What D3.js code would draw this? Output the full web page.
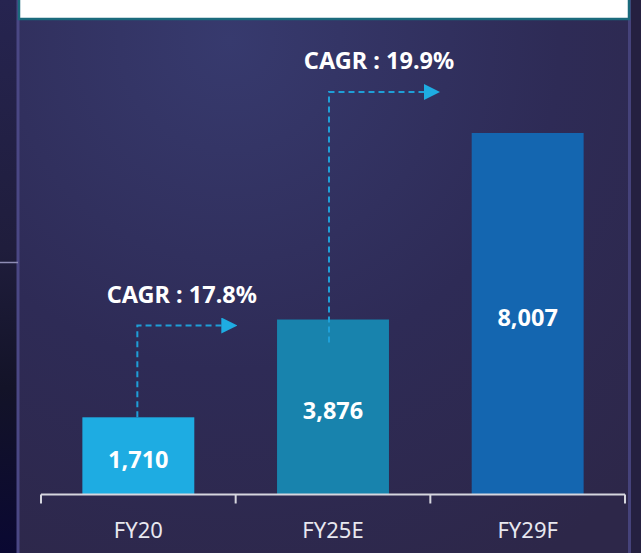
<!DOCTYPE html>
<html>
<head>
<meta charset="utf-8">
<script src="https://cdn.jsdelivr.net/npm/d3@7"></script>
<style>
  html, body { margin: 0; padding: 0; background: #2a2548; }
  svg { display: block; }
  text { font-family: "Noto Sans", "Open Sans", sans-serif; }
</style>
</head>
<body>
<div id="chart-area"></div>
<script>

// SVG Size
var width = 641,
	height = 553;

// chart data
var categories = ["FY20", "FY25E", "FY29F"];
var values = [1710, 3876, 8007];
var valueLabels = ["1,710", "3,876", "8,007"];
var barColors = ["#1eace2", "#1883ad", "#1466b0"];

// CAGR annotations (from bar i to bar i+1)
var cagrLabels = ["CAGR : 17.8%", "CAGR : 19.9%"];
var cagrFrom = ["FY20", "FY25E"];


var svg = d3.select("#chart-area")
	.append("svg")
	.attr("width", width)
	.attr("height", height);

var defs = svg.append("defs");

// background gradients
var bg = defs.append("radialGradient")
	.attr("id", "bg")
	.attr("gradientUnits", "userSpaceOnUse")
	.attr("cx", 230).attr("cy", 40).attr("r", 600);
bg.append("stop").attr("offset", "0%").attr("stop-color", "#373a6e");
bg.append("stop").attr("offset", "55%").attr("stop-color", "#2e2b56");
bg.append("stop").attr("offset", "100%").attr("stop-color", "#2d2749");

var leftBg = defs.append("linearGradient")
	.attr("id", "leftBg")
	.attr("x1", 0).attr("y1", 0).attr("x2", 0).attr("y2", 1);
leftBg.append("stop").attr("offset", "0%").attr("stop-color", "#262450");
leftBg.append("stop").attr("offset", "45%").attr("stop-color", "#1f1d3c");
leftBg.append("stop").attr("offset", "70%").attr("stop-color", "#131328");
leftBg.append("stop").attr("offset", "100%").attr("stop-color", "#0a0832");

var arrowHead = defs.append("marker")
	.attr("id", "arrowHead")
	.attr("viewBox", "0 0 16 16")
	.attr("refX", 1).attr("refY", 8)
	.attr("markerWidth", 16).attr("markerHeight", 16)
	.attr("markerUnits", "userSpaceOnUse")
	.attr("orient", "auto");
arrowHead.append("path")
	.attr("d", "M0,0 L16,8 L0,16 Z")
	.attr("fill", "#1eace2");

// panel background
svg.append("rect")
	.attr("x", 0).attr("y", 0)
	.attr("width", width).attr("height", height)
	.attr("fill", "url(#bg)");

svg.append("rect")
	.attr("x", 0).attr("y", 0)
	.attr("width", 17).attr("height", height)
	.attr("fill", "url(#leftBg)");

svg.append("rect")
	.attr("x", 631).attr("y", 0)
	.attr("width", 10).attr("height", height)
	.attr("fill", "#252040");

// panel borders
svg.append("line")
	.attr("x1", 18).attr("x2", 18)
	.attr("y1", 0).attr("y2", height)
	.attr("stroke", "#4a4784").attr("stroke-width", 3);

svg.append("line")
	.attr("x1", 629.5).attr("x2", 629.5)
	.attr("y1", 0).attr("y2", height)
	.attr("stroke", "#45427a").attr("stroke-width", 3);

svg.append("line")
	.attr("x1", 0).attr("x2", 18)
	.attr("y1", 262.5).attr("y2", 262.5)
	.attr("stroke", "#8e8cb4").attr("stroke-width", 1.5);

// white header box
svg.append("rect")
	.attr("x", 19).attr("y", -4)
	.attr("width", 610).attr("height", 23)
	.attr("fill", "#ffffff")
	.attr("stroke", "#1b6a7c").attr("stroke-width", 2.5);


// scales
var x = d3.scaleBand()
	.domain(categories)
	.range([41, 625])
	.paddingInner(0.425)
	.paddingOuter(0.2125);

var y = d3.scaleLinear()
	.domain([0, 8007])
	.range([494.5, 133]);

var color = d3.scaleOrdinal()
	.domain(categories)
	.range(barColors);


// bars
svg.selectAll("rect.bar").data(values).enter()
	.append("rect")
	.attr("class", "bar")
	.attr("x", function (d, i) {return x(categories[i])})
	.attr("y", function (d) {return y(d)})
	.attr("width", x.bandwidth())
	.attr("height", function (d) {return y(0) - y(d)})
	.attr("fill", function (d, i) {return color(categories[i])});

// value labels
svg.selectAll("text.value").data(values).enter()
	.append("text")
	.attr("class", "value")
	.attr("x", function (d, i) {return x(categories[i]) + x.bandwidth() / 2})
	.attr("y", function (d) {return (y(d) + y(0)) / 2 + 6})
	.attr("text-anchor", "middle")
	.attr("dominant-baseline", "middle")
	.attr("fill", "#ffffff")
	.attr("font-size", 23.5)
	.attr("font-weight", "bold")
	.text(function (d, i) {return valueLabels[i]});


// x axis: line with ticks on band boundaries
var boundaries = [x.range()[0]].concat(categories.map(function (c) {
	return x(c) + x.bandwidth() + x.step() * x.paddingInner() / 2;
}));

var axis = svg.append("g").attr("class", "axis");

axis.append("line")
	.attr("x1", boundaries[0]).attr("x2", boundaries[boundaries.length - 1])
	.attr("y1", y(0)).attr("y2", y(0))
	.attr("stroke", "#d6d6de").attr("stroke-width", 2);

axis.selectAll("line.tick").data(boundaries).enter()
	.append("line")
	.attr("class", "tick")
	.attr("x1", function (d) {return d}).attr("x2", function (d) {return d})
	.attr("y1", y(0)).attr("y2", y(0) + 9)
	.attr("stroke", "#d6d6de").attr("stroke-width", 2);

axis.selectAll("text").data(categories).enter()
	.append("text")
	.attr("x", function (d) {return x(d) + x.bandwidth() / 2})
	.attr("y", y(0) + 43)
	.attr("text-anchor", "middle")
	.attr("fill", "#e8e8f0")
	.attr("font-size", 22)
	.text(function (d) {return d});


// CAGR arrows
var lineOffset = [-1, -4];      // x shift of the vertical leg from bar centre
var startOffset = [0, 23];      // where the vertical leg starts, relative to bar top
var levelOffset = [6, -41];     // arrow height relative to next bar top
var reach = [101, 112];         // length of horizontal leg incl. head

cagrLabels.forEach(function (label, i) {
	var from = cagrFrom[i];
	var idx = categories.indexOf(from);
	var x0 = x(from) + x.bandwidth() / 2 + lineOffset[i];
	var y0 = y(values[idx]) + startOffset[i];
	var yA = y(values[idx + 1]) + levelOffset[i];
	var x1 = x0 + reach[i] - 16;

	svg.append("path")
		.attr("d", "M" + x0 + "," + y0 + " V" + yA + " H" + x1)
		.attr("fill", "none")
		.attr("stroke", "#1e9fd8")
		.attr("stroke-width", 2)
		.attr("stroke-dasharray", "6,4")
		.attr("marker-end", "url(#arrowHead)");

	svg.append("text")
		.attr("x", x0 + reach[i] / 2 - 6)
		.attr("y", yA - 29)
		.attr("text-anchor", "middle")
		.attr("dominant-baseline", "middle")
		.attr("fill", "#ffffff")
		.attr("font-size", 23.5)
		.attr("font-weight", "bold")
		.text(label);
});

</script>
</body>
</html>
